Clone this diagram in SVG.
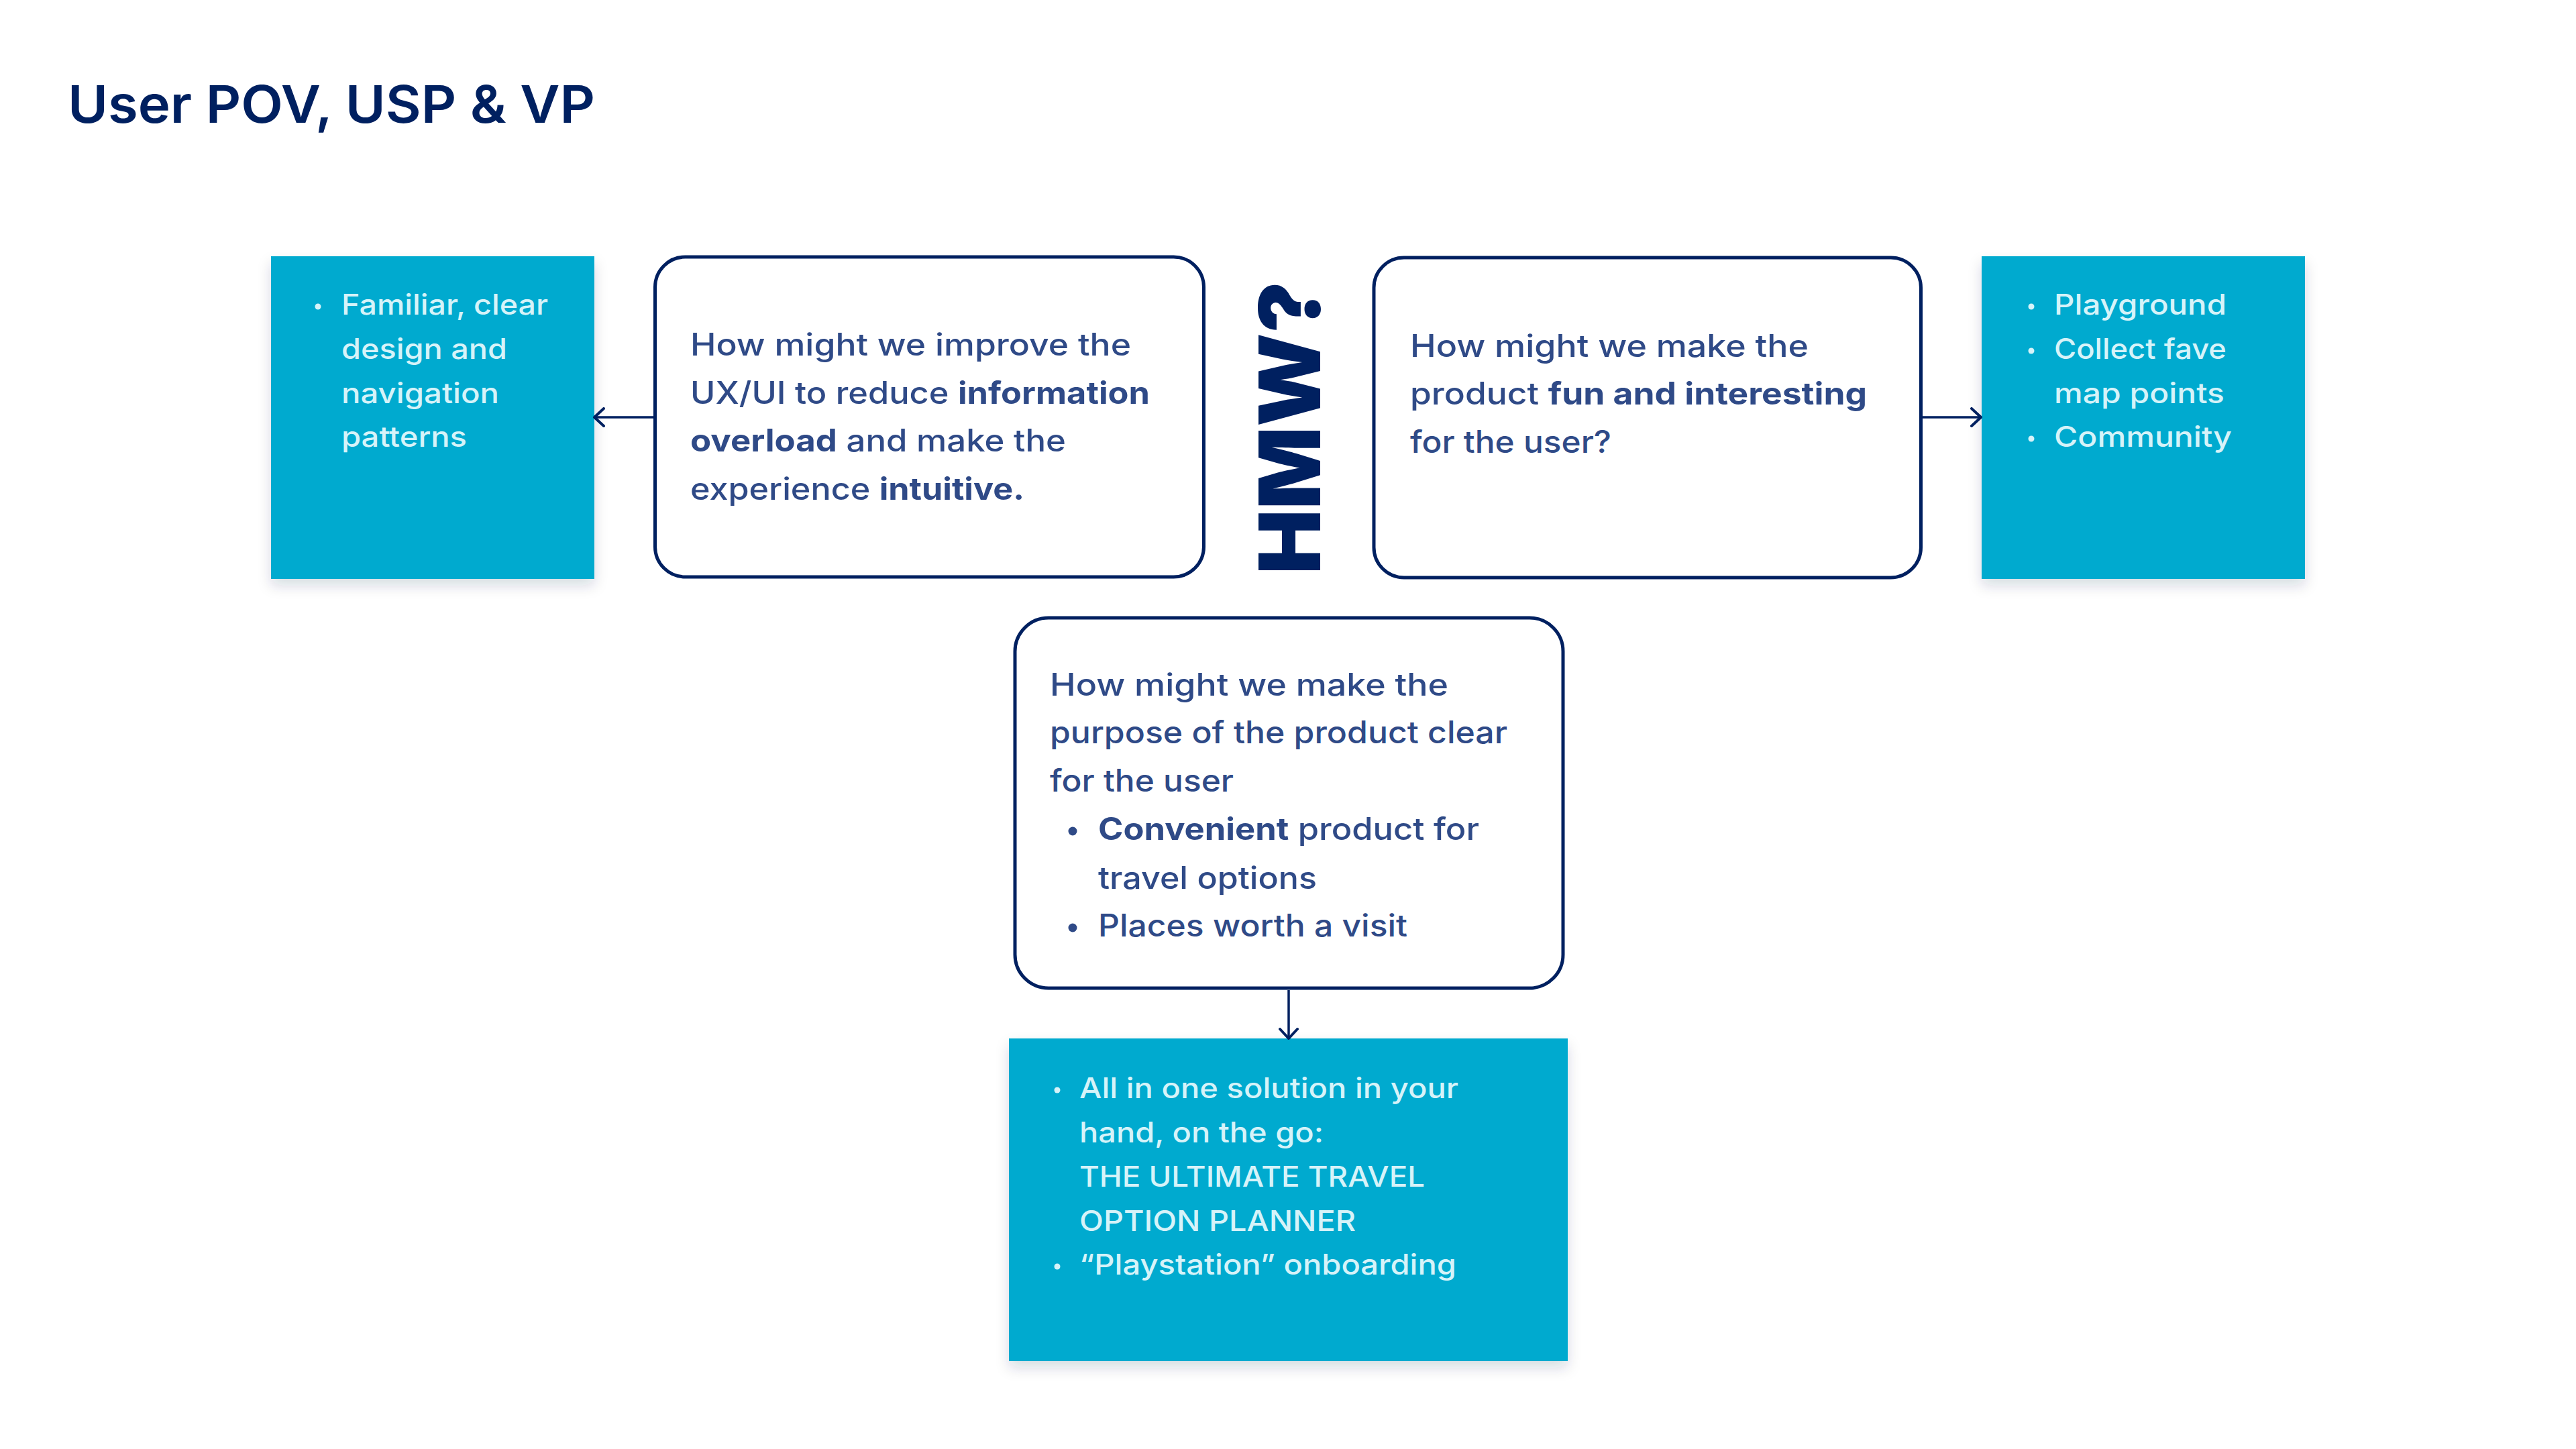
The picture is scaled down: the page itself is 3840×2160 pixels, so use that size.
<svg xmlns="http://www.w3.org/2000/svg" width="3840" height="2160" viewBox="0 0 3840 2160">
<defs>
<filter id="sh" x="-10%" y="-10%" width="120%" height="130%">
<feDropShadow dx="0" dy="10" stdDeviation="10" flood-color="#1a2a4a" flood-opacity="0.16"/>
</filter>
<marker id="arr" viewBox="0 0 20 30" refX="17" refY="15" markerWidth="20" markerHeight="30" markerUnits="userSpaceOnUse" orient="auto">
<path d="M3,2 L17,15 L3,28" fill="none" stroke="#002060" stroke-width="4" stroke-linecap="round" stroke-linejoin="round"/>
</marker>
</defs>
<style>
.title{font-family:Inter,"Noto Sans","Liberation Sans",sans-serif;font-weight:600;font-size:77px;fill:#002060}
.hmw{font-family:Inter,"Noto Sans","Liberation Sans",sans-serif;font-weight:900;font-size:126px;fill:#002060}
.q{fill:#fff;stroke:#002060;stroke-width:5}
.blue{fill:#00AACF}
.qt{font-family:Inter,"Noto Sans","Liberation Sans",sans-serif;font-weight:500;font-size:46px;fill:#2F4A87}
.b{font-weight:700}
.bt{font-family:Inter,"Noto Sans","Liberation Sans",sans-serif;font-weight:500;font-size:42px;fill:#D6F3F9}
.bd{fill:#D6F3F9}
.nd{fill:#2F4A87}
.conn{fill:none;stroke:#002060;stroke-width:3.5}
</style>
<rect width="3840" height="2160" fill="#fff"/>
<text class="title" x="101" y="183" textLength="786" lengthAdjust="spacingAndGlyphs">User POV, USP &amp; VP</text>

<g id="hmw">
<text class="hmw" transform="translate(1968,856) rotate(-90)" x="0" y="0" textLength="437" lengthAdjust="spacingAndGlyphs">HMW?</text>
</g>

<g id="usp-left">
<rect class="blue" x="404" y="382" width="482" height="481" filter="url(#sh)"/>
<circle class="bd" cx="474" cy="457" r="4.5"/>
<text class="bt" x="509" y="469" textLength="308" lengthAdjust="spacingAndGlyphs">Familiar, clear</text>
<text class="bt" x="509" y="535" textLength="247" lengthAdjust="spacingAndGlyphs">design and</text>
<text class="bt" x="509" y="601" textLength="235" lengthAdjust="spacingAndGlyphs">navigation</text>
<text class="bt" x="509" y="666" textLength="187" lengthAdjust="spacingAndGlyphs">patterns</text>
</g>

<g id="hmw-ux">
<rect class="q" x="976.5" y="383" width="818" height="477" rx="45"/>
<text class="qt" x="1029" y="530" textLength="657" lengthAdjust="spacingAndGlyphs">How might we improve the</text>
<text class="qt" x="1029" y="602" textLength="685" lengthAdjust="spacingAndGlyphs">UX/UI to reduce <tspan class="b">information</tspan></text>
<text class="qt" x="1029" y="673" textLength="560" lengthAdjust="spacingAndGlyphs"><tspan class="b">overload</tspan> and make the</text>
<text class="qt" x="1029" y="745" textLength="498" lengthAdjust="spacingAndGlyphs">experience <tspan class="b">intuitive.</tspan></text>
</g>

<g id="hmw-fun">
<rect class="q" x="2048" y="384" width="815.5" height="477" rx="45"/>
<text class="qt" x="2102" y="532" textLength="594" lengthAdjust="spacingAndGlyphs">How might we make the</text>
<text class="qt" x="2102" y="603" textLength="681" lengthAdjust="spacingAndGlyphs">product <tspan class="b">fun and interesting</tspan></text>
<text class="qt" x="2102" y="675" textLength="300" lengthAdjust="spacingAndGlyphs">for the user?</text>
</g>

<g id="usp-right">
<rect class="blue" x="2954" y="382" width="482" height="481" filter="url(#sh)"/>
<circle class="bd" cx="3028" cy="457" r="4.5"/>
<text class="bt" x="3062" y="469" textLength="257" lengthAdjust="spacingAndGlyphs">Playground</text>
<circle class="bd" cx="3028" cy="523" r="4.5"/>
<text class="bt" x="3062" y="535" textLength="257" lengthAdjust="spacingAndGlyphs">Collect fave</text>
<text class="bt" x="3062" y="601" textLength="254" lengthAdjust="spacingAndGlyphs">map points</text>
<circle class="bd" cx="3028" cy="654" r="4.5"/>
<text class="bt" x="3062" y="666" textLength="265" lengthAdjust="spacingAndGlyphs">Community</text>
</g>

<g id="hmw-purpose">
<rect class="q" x="1513" y="921" width="817" height="552" rx="50"/>
<text class="qt" x="1565" y="1037" textLength="594" lengthAdjust="spacingAndGlyphs">How might we make the</text>
<text class="qt" x="1565" y="1108" textLength="682" lengthAdjust="spacingAndGlyphs">purpose of the product clear</text>
<text class="qt" x="1565" y="1180" textLength="274" lengthAdjust="spacingAndGlyphs">for the user</text>
<circle class="nd" cx="1599" cy="1239" r="6.5"/>
<text class="qt" x="1637" y="1252" textLength="568" lengthAdjust="spacingAndGlyphs"><tspan class="b">Convenient</tspan> product for</text>
<text class="qt" x="1637" y="1325" textLength="326" lengthAdjust="spacingAndGlyphs">travel options</text>
<circle class="nd" cx="1599" cy="1383" r="6.5"/>
<text class="qt" x="1637" y="1396" textLength="461" lengthAdjust="spacingAndGlyphs">Places worth a visit</text>
</g>

<g id="vp-bottom">
<rect class="blue" x="1504" y="1548" width="833" height="481" filter="url(#sh)"/>
<circle class="bd" cx="1576" cy="1625" r="4.5"/>
<text class="bt" x="1609" y="1637" textLength="565" lengthAdjust="spacingAndGlyphs">All in one solution in your</text>
<text class="bt" x="1609" y="1703" textLength="364" lengthAdjust="spacingAndGlyphs">hand, on the go:</text>
<text class="bt" x="1609" y="1769" textLength="515" lengthAdjust="spacingAndGlyphs">THE ULTIMATE TRAVEL</text>
<text class="bt" x="1609" y="1835" textLength="412" lengthAdjust="spacingAndGlyphs">OPTION PLANNER</text>
<circle class="bd" cx="1576" cy="1888" r="4.5"/>
<text class="bt" x="1609" y="1900" textLength="562" lengthAdjust="spacingAndGlyphs">“Playstation” onboarding</text>
</g>

<g id="connectors">
<path class="conn" d="M974,622 L886,622" marker-end="url(#arr)"/>
<path class="conn" d="M2866,622 L2953,622" marker-end="url(#arr)"/>
<path class="conn" d="M1921,1476 L1921,1548" marker-end="url(#arr)"/>
</g>
</svg>
